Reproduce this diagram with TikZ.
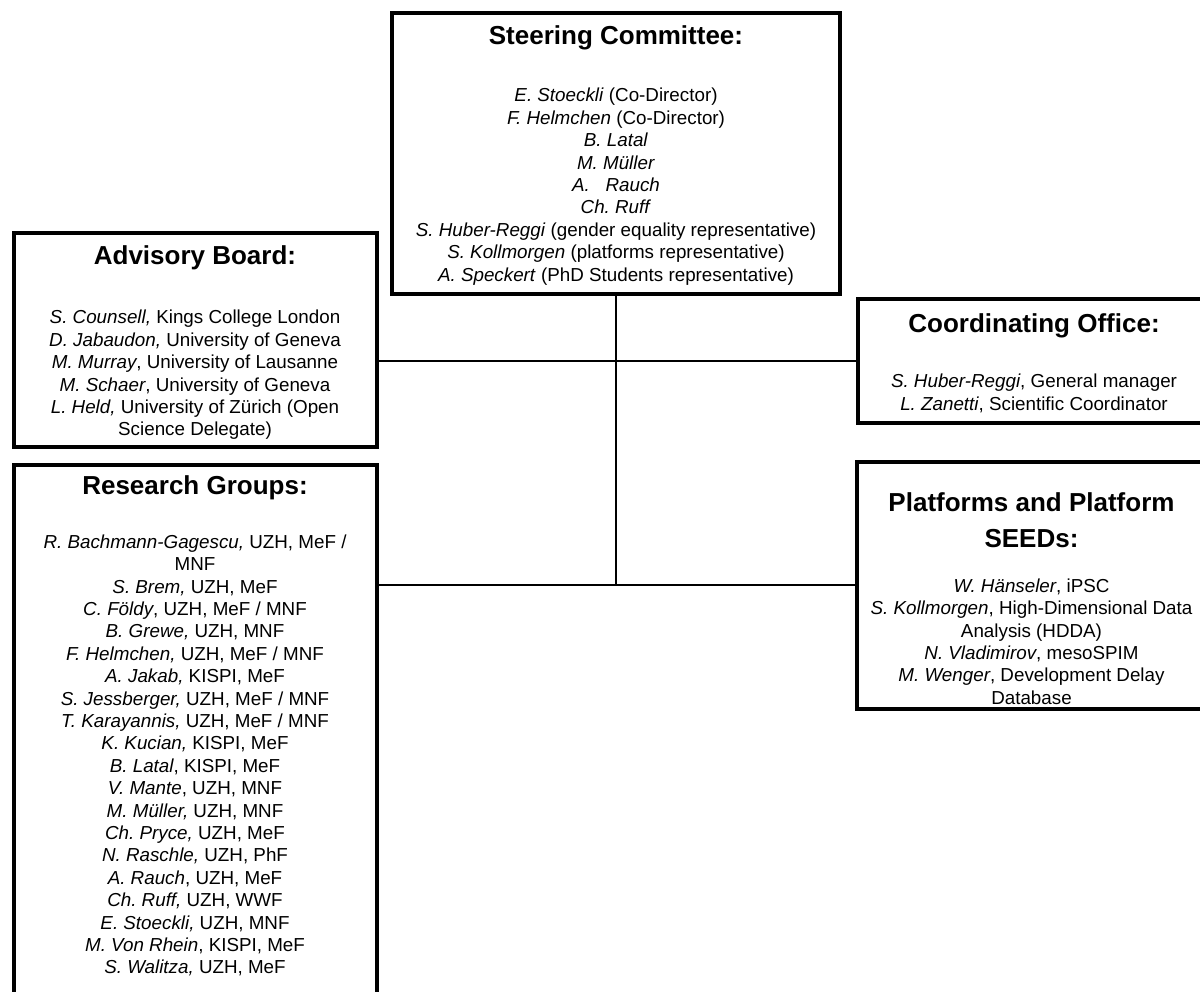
\documentclass[tikz,border=0pt]{standalone}
\usepackage{fontspec}
\setmainfont{Liberation Sans}
\usetikzlibrary{positioning}
\frenchspacing
\newcommand{\nm}[1]{\textit{#1}}

\begin{document}
\begin{tikzpicture}[
    x=1pt, y=-1pt,
    panel/.style={
        rectangle,draw,line width=4pt,
        outer sep=0pt, inner sep=0pt,
        anchor=north west
    },
    head/.style={
        inner sep=0pt, align=center,
        font=\bfseries\fontsize{26}{36.5}\selectfont
    },
    names/.style={
        inner sep=0pt, align=center,
        font=\fontsize{18.8}{22.4}\selectfont
    },
    link/.style={line width=1.6pt}
]
\useasboundingbox (0,0) rectangle (1200,992);
\clip (0,0) rectangle (1200,992);

\node[panel, minimum width=448pt, minimum height=281.5pt] (steering) at (392,13) {};
\node[panel, minimum width=363pt, minimum height=214pt] (advisory) at (13.5,233) {};
\node[panel, minimum width=372pt, minimum height=123.5pt] (coordinating) at (858,299.5) {};
\node[panel, minimum width=363pt, minimum height=545pt] (research) at (13.5,465) {};
\node[panel, minimum width=373pt, minimum height=247pt] (platforms) at (857,461.5) {};

\draw[link] (coordinating.west) -- (coordinating.west -| advisory.east);
\draw[link] (platforms.west) -- (platforms.west -| research.east);
\draw[link] (steering.south) -- (steering.south |- platforms.west);

\node[head, below=12pt of steering.north] (steeringhead) {Steering Committee:};
\node[names, below=75pt of steering.north] (steeringnames) {\nm{E. Stoeckli} (Co-Director)\\
    \nm{F. Helmchen} (Co-Director)\\
    \nm{B. Latal}\\
    \nm{M. Müller}\\
    \nm{A.~~~Rauch}\\
    \nm{Ch. Ruff}\\
    \nm{S. Huber-Reggi} (gender equality representative)\\
    \nm{S. Kollmorgen} (platforms representative)\\
    \nm{A. Speckert} (PhD Students representative)};

\node[head, below=12pt of advisory.north] (advisoryhead) {Advisory Board:};
\node[names, below=77pt of advisory.north] (advisorynames) {\nm{S. Counsell,} Kings College London\\
    \nm{D. Jabaudon,} University of Geneva\\
    \nm{M. Murray}, University of Lausanne\\
    \nm{M. Schaer}, University of Geneva\\
    \nm{L. Held,} University of Zürich (Open\\
    Science Delegate)};

\node[head, below=14pt of coordinating.north, xshift=-10pt] (coordinatinghead) {Coordinating Office:};
\node[names, below=74.5pt of coordinating.north, xshift=-10pt] (coordinatingnames) {\nm{S. Huber-Reggi}, General manager\\
    \nm{L. Zanetti}, Scientific Coordinator};

\node[head, below=10.5pt of research.north] (researchhead) {Research Groups:};
\node[names, below=69.5pt of research.north] (researchnames) {\nm{R. Bachmann-Gagescu,} UZH, MeF /\\
    MNF\\
    \nm{S. Brem,} UZH, MeF\\
    \nm{C. Földy}, UZH, MeF / MNF\\
    \nm{B. Grewe,} UZH, MNF\\
    \nm{F. Helmchen,} UZH, MeF / MNF\\
    \nm{A. Jakab,} KISPI, MeF\\
    \nm{S. Jessberger,} UZH, MeF / MNF\\
    \nm{T. Karayannis,} UZH, MeF / MNF\\
    \nm{K. Kucian,} KISPI, MeF\\
    \nm{B. Latal}, KISPI, MeF\\
    \nm{V. Mante}, UZH, MNF\\
    \nm{M. Müller,} UZH, MNF\\
    \nm{Ch. Pryce,} UZH, MeF\\
    \nm{N. Raschle,} UZH, PhF\\
    \nm{A. Rauch}, UZH, MeF\\
    \nm{Ch. Ruff,} UZH, WWF\\
    \nm{E. Stoeckli,} UZH, MNF\\
    \nm{M. Von Rhein}, KISPI, MeF\\
    \nm{S. Walitza,} UZH, MeF};

\node[head, below=30.5pt of platforms.north, xshift=-12pt] (platformshead) {Platforms and Platform\\ SEEDs:};
\node[names, below=117pt of platforms.north, xshift=-12pt] (platformsnames) {\nm{W. Hänseler}, iPSC\\
    \nm{S. Kollmorgen}, High-Dimensional Data\\
    Analysis (HDDA)\\
    \nm{N. Vladimirov}, mesoSPIM\\
    \nm{M. Wenger}, Development Delay\\
    Database};
\end{tikzpicture}
\end{document}
